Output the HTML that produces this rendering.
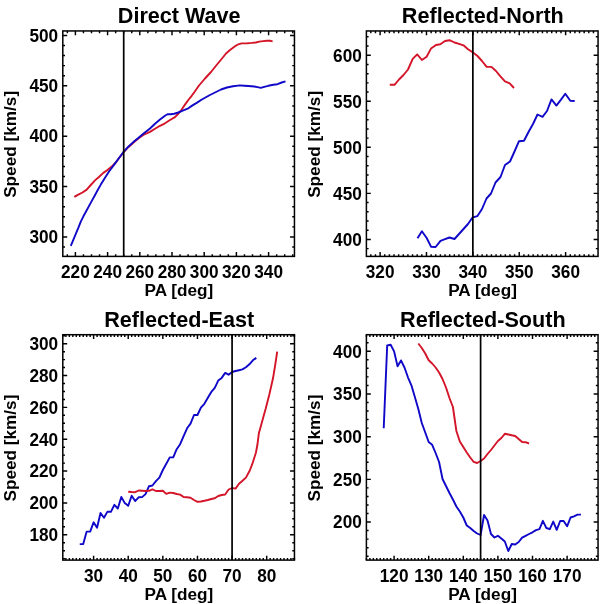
<!DOCTYPE html>
<html><head><meta charset="utf-8"><style>
html,body{margin:0;padding:0;background:#fff;width:600px;height:604px;overflow:hidden}
svg{display:block;will-change:transform}
.t{font-family:"Liberation Sans",sans-serif;font-weight:bold;font-size:17.2px;fill:#000}
.h{font-family:"Liberation Sans",sans-serif;font-weight:bold;font-size:21.6px;fill:#000}
</style></head><body>
<svg width="600" height="604" viewBox="0 0 600 604">
<rect width="600" height="604" fill="#fff"/>
<polyline points="74.3,196.9 78.3,194.6 82.5,192.5 86.7,189.6 90.8,185 95,180.4 99.2,176.7 103.3,172.9 107.5,170 111.7,166.6 115.8,162.5 119.5,157.5 124,151.8 128.3,147.2 133.3,142.8 138.3,138.6 143.3,135 150,131.9 155,128.75 160,125.8 165,123.3 170,120 175,117.1 178.3,113.75 181.7,109.6 185,104.6 188.3,100 191.7,95.8 195,91.25 199,85.5 205,78.5 211,72 217,64.5 222,58.5 226,53.5 230,50 235,46.3 238.3,44.3 241.7,43.4 247.5,43.2 251.7,42.9 255.8,42.5 259.2,41.6 263.3,41.1 266.7,40.8 270,40.8 272.6,41.4" fill="none" stroke="#d41428" stroke-width="1.9" stroke-linejoin="round" stroke-linecap="butt"/>
<polyline points="70.8,245.8 73.4,239.7 75.9,233.7 78.4,227.7 80.9,221.3 83.4,216.3 85.9,211.8 88.8,206.4 91.8,200.9 94.8,195.5 97.3,190.8 100.8,184.6 105,177.7 109.2,171.3 114.2,164.6 119.2,157.7 124,151.3 128.3,146.7 133.3,142.1 138.3,137.9 143.3,133.75 150,128.5 155,123.75 160,119.6 165,115.8 167.5,114.3 170.8,114.2 174.2,113.75 178.3,112.5 183.3,110.4 188.3,108.3 192.5,105.4 196.7,102.9 201.5,99.8 209,95.5 215,92.5 221,89.5 227,87.5 233,86.2 240,85.4 244.2,85.7 248.3,86 254.2,86.5 257.5,87.1 260.8,87.9 264.2,86.8 268.3,85.8 273.3,84.8 277.5,84.2 281.7,82.5 285.5,81.3" fill="none" stroke="#1008c8" stroke-width="1.9" stroke-linejoin="round" stroke-linecap="butt"/>
<line x1="123.7" y1="30.95" x2="123.7" y2="256.4" stroke="#000" stroke-width="1.7"/>
<rect x="62.8" y="30.95" width="231.65" height="225.45" fill="none" stroke="#000" stroke-width="1.5"/>
<text transform="translate(75.4 278) scale(1 1.06)" text-anchor="middle" class="t">220</text>
<text transform="translate(107.6 278) scale(1 1.06)" text-anchor="middle" class="t">240</text>
<text transform="translate(139.8 278) scale(1 1.06)" text-anchor="middle" class="t">260</text>
<text transform="translate(172 278) scale(1 1.06)" text-anchor="middle" class="t">280</text>
<text transform="translate(204.2 278) scale(1 1.06)" text-anchor="middle" class="t">300</text>
<text transform="translate(236.4 278) scale(1 1.06)" text-anchor="middle" class="t">320</text>
<text transform="translate(268.6 278) scale(1 1.06)" text-anchor="middle" class="t">340</text>
<text transform="translate(58.2 243.26) scale(1 1.06)" text-anchor="end" class="t">300</text>
<text transform="translate(58.2 192.87) scale(1 1.06)" text-anchor="end" class="t">350</text>
<text transform="translate(58.2 142.48) scale(1 1.06)" text-anchor="end" class="t">400</text>
<text transform="translate(58.2 92.09) scale(1 1.06)" text-anchor="end" class="t">450</text>
<text transform="translate(58.2 41.7) scale(1 1.06)" text-anchor="end" class="t">500</text>
<path d="M67.35 256.4v-2.2M67.35 30.95v2.2M75.4 256.4v-4.4M75.4 30.95v4.4M83.45 256.4v-2.2M83.45 30.95v2.2M91.5 256.4v-2.2M91.5 30.95v2.2M99.55 256.4v-2.2M99.55 30.95v2.2M107.6 256.4v-4.4M107.6 30.95v4.4M115.65 256.4v-2.2M115.65 30.95v2.2M123.7 256.4v-2.2M123.7 30.95v2.2M131.75 256.4v-2.2M131.75 30.95v2.2M139.8 256.4v-4.4M139.8 30.95v4.4M147.85 256.4v-2.2M147.85 30.95v2.2M155.9 256.4v-2.2M155.9 30.95v2.2M163.95 256.4v-2.2M163.95 30.95v2.2M172 256.4v-4.4M172 30.95v4.4M180.05 256.4v-2.2M180.05 30.95v2.2M188.1 256.4v-2.2M188.1 30.95v2.2M196.15 256.4v-2.2M196.15 30.95v2.2M204.2 256.4v-4.4M204.2 30.95v4.4M212.25 256.4v-2.2M212.25 30.95v2.2M220.3 256.4v-2.2M220.3 30.95v2.2M228.35 256.4v-2.2M228.35 30.95v2.2M236.4 256.4v-4.4M236.4 30.95v4.4M244.45 256.4v-2.2M244.45 30.95v2.2M252.5 256.4v-2.2M252.5 30.95v2.2M260.55 256.4v-2.2M260.55 30.95v2.2M268.6 256.4v-4.4M268.6 30.95v4.4M276.65 256.4v-2.2M276.65 30.95v2.2M284.7 256.4v-2.2M284.7 30.95v2.2M292.75 256.4v-2.2M292.75 30.95v2.2M62.8 247.04h2.2M294.45 247.04h-2.2M62.8 236.96h4.4M294.45 236.96h-4.4M62.8 226.88h2.2M294.45 226.88h-2.2M62.8 216.8h2.2M294.45 216.8h-2.2M62.8 206.73h2.2M294.45 206.73h-2.2M62.8 196.65h2.2M294.45 196.65h-2.2M62.8 186.57h4.4M294.45 186.57h-4.4M62.8 176.49h2.2M294.45 176.49h-2.2M62.8 166.41h2.2M294.45 166.41h-2.2M62.8 156.34h2.2M294.45 156.34h-2.2M62.8 146.26h2.2M294.45 146.26h-2.2M62.8 136.18h4.4M294.45 136.18h-4.4M62.8 126.1h2.2M294.45 126.1h-2.2M62.8 116.02h2.2M294.45 116.02h-2.2M62.8 105.95h2.2M294.45 105.95h-2.2M62.8 95.87h2.2M294.45 95.87h-2.2M62.8 85.79h4.4M294.45 85.79h-4.4M62.8 75.71h2.2M294.45 75.71h-2.2M62.8 65.63h2.2M294.45 65.63h-2.2M62.8 55.56h2.2M294.45 55.56h-2.2M62.8 45.48h2.2M294.45 45.48h-2.2M62.8 35.4h4.4M294.45 35.4h-4.4" stroke="#000" stroke-width="1.45" fill="none"/>
<text transform="translate(178.93 296)" text-anchor="middle" class="t">PA [deg]</text>
<text transform="translate(16.2 144.37) rotate(-90)" text-anchor="middle" class="t">Speed [km/s]</text>
<text transform="translate(179.22 22.75) scale(1 1.045)" text-anchor="middle" class="h">Direct Wave</text>
<polyline points="389.8,84.8 394.5,84.8 399,79.5 403.5,75 408,69.5 412.7,58.9 417.2,54.4 421.9,60 426.6,56.8 431,48.6 436,45 440.3,44.2 445,41 449.5,40.2 454.5,42.5 459,43.8 463.5,45.3 468,49.2 473,52.5 477.5,56 482,61 486.7,66.8 491.4,66.9 496,71 500.4,76.3 505,81.3 509.7,83.3 514,88" fill="none" stroke="#d41428" stroke-width="1.9" stroke-linejoin="round" stroke-linecap="butt"/>
<polyline points="417.5,238.3 421.9,231.3 426.7,238 431,246.7 435.6,247 440.5,240.8 445,239.2 449.5,237.5 454.5,239 459,234 463.5,229 468,224 472.5,217.5 477.3,216.2 482,209 486.5,198.5 491,193.5 495.5,182.5 500.5,177 505,165 510,161.5 514.5,151.5 519,141.2 524,140.8 528.5,132 533,124 537.5,114.5 542.5,116.8 547,111 551.5,99.4 556.4,105.6 561,99.6 565.3,93.7 570.3,100.7 574.7,101" fill="none" stroke="#1008c8" stroke-width="1.9" stroke-linejoin="round" stroke-linecap="butt"/>
<line x1="472.86" y1="30.95" x2="472.86" y2="256.4" stroke="#000" stroke-width="1.7"/>
<rect x="366.4" y="30.95" width="231.65" height="225.45" fill="none" stroke="#000" stroke-width="1.5"/>
<text transform="translate(380.1 278) scale(1 1.06)" text-anchor="middle" class="t">320</text>
<text transform="translate(426.48 278) scale(1 1.06)" text-anchor="middle" class="t">330</text>
<text transform="translate(472.86 278) scale(1 1.06)" text-anchor="middle" class="t">340</text>
<text transform="translate(519.24 278) scale(1 1.06)" text-anchor="middle" class="t">350</text>
<text transform="translate(565.62 278) scale(1 1.06)" text-anchor="middle" class="t">360</text>
<text transform="translate(361.8 245.7) scale(1 1.06)" text-anchor="end" class="t">400</text>
<text transform="translate(361.8 199.66) scale(1 1.06)" text-anchor="end" class="t">450</text>
<text transform="translate(361.8 153.62) scale(1 1.06)" text-anchor="end" class="t">500</text>
<text transform="translate(361.8 107.59) scale(1 1.06)" text-anchor="end" class="t">550</text>
<text transform="translate(361.8 61.55) scale(1 1.06)" text-anchor="end" class="t">600</text>
<path d="M370.82 256.4v-2.2M370.82 30.95v2.2M375.46 256.4v-2.2M375.46 30.95v2.2M380.1 256.4v-4.4M380.1 30.95v4.4M384.74 256.4v-2.2M384.74 30.95v2.2M389.38 256.4v-2.2M389.38 30.95v2.2M394.01 256.4v-2.2M394.01 30.95v2.2M398.65 256.4v-2.2M398.65 30.95v2.2M403.29 256.4v-2.2M403.29 30.95v2.2M407.93 256.4v-2.2M407.93 30.95v2.2M412.57 256.4v-2.2M412.57 30.95v2.2M417.2 256.4v-2.2M417.2 30.95v2.2M421.84 256.4v-2.2M421.84 30.95v2.2M426.48 256.4v-4.4M426.48 30.95v4.4M431.12 256.4v-2.2M431.12 30.95v2.2M435.76 256.4v-2.2M435.76 30.95v2.2M440.39 256.4v-2.2M440.39 30.95v2.2M445.03 256.4v-2.2M445.03 30.95v2.2M449.67 256.4v-2.2M449.67 30.95v2.2M454.31 256.4v-2.2M454.31 30.95v2.2M458.95 256.4v-2.2M458.95 30.95v2.2M463.58 256.4v-2.2M463.58 30.95v2.2M468.22 256.4v-2.2M468.22 30.95v2.2M472.86 256.4v-4.4M472.86 30.95v4.4M477.5 256.4v-2.2M477.5 30.95v2.2M482.14 256.4v-2.2M482.14 30.95v2.2M486.77 256.4v-2.2M486.77 30.95v2.2M491.41 256.4v-2.2M491.41 30.95v2.2M496.05 256.4v-2.2M496.05 30.95v2.2M500.69 256.4v-2.2M500.69 30.95v2.2M505.33 256.4v-2.2M505.33 30.95v2.2M509.96 256.4v-2.2M509.96 30.95v2.2M514.6 256.4v-2.2M514.6 30.95v2.2M519.24 256.4v-4.4M519.24 30.95v4.4M523.88 256.4v-2.2M523.88 30.95v2.2M528.52 256.4v-2.2M528.52 30.95v2.2M533.15 256.4v-2.2M533.15 30.95v2.2M537.79 256.4v-2.2M537.79 30.95v2.2M542.43 256.4v-2.2M542.43 30.95v2.2M547.07 256.4v-2.2M547.07 30.95v2.2M551.71 256.4v-2.2M551.71 30.95v2.2M556.34 256.4v-2.2M556.34 30.95v2.2M560.98 256.4v-2.2M560.98 30.95v2.2M565.62 256.4v-4.4M565.62 30.95v4.4M570.26 256.4v-2.2M570.26 30.95v2.2M574.9 256.4v-2.2M574.9 30.95v2.2M579.53 256.4v-2.2M579.53 30.95v2.2M584.17 256.4v-2.2M584.17 30.95v2.2M588.81 256.4v-2.2M588.81 30.95v2.2M593.45 256.4v-2.2M593.45 30.95v2.2M366.4 248.61h2.2M598.05 248.61h-2.2M366.4 239.4h4.4M598.05 239.4h-4.4M366.4 230.19h2.2M598.05 230.19h-2.2M366.4 220.98h2.2M598.05 220.98h-2.2M366.4 211.78h2.2M598.05 211.78h-2.2M366.4 202.57h2.2M598.05 202.57h-2.2M366.4 193.36h4.4M598.05 193.36h-4.4M366.4 184.16h2.2M598.05 184.16h-2.2M366.4 174.95h2.2M598.05 174.95h-2.2M366.4 165.74h2.2M598.05 165.74h-2.2M366.4 156.53h2.2M598.05 156.53h-2.2M366.4 147.32h4.4M598.05 147.32h-4.4M366.4 138.12h2.2M598.05 138.12h-2.2M366.4 128.91h2.2M598.05 128.91h-2.2M366.4 119.7h2.2M598.05 119.7h-2.2M366.4 110.5h2.2M598.05 110.5h-2.2M366.4 101.29h4.4M598.05 101.29h-4.4M366.4 92.08h2.2M598.05 92.08h-2.2M366.4 82.87h2.2M598.05 82.87h-2.2M366.4 73.66h2.2M598.05 73.66h-2.2M366.4 64.46h2.2M598.05 64.46h-2.2M366.4 55.25h4.4M598.05 55.25h-4.4M366.4 46.04h2.2M598.05 46.04h-2.2M366.4 36.84h2.2M598.05 36.84h-2.2" stroke="#000" stroke-width="1.45" fill="none"/>
<text transform="translate(482.52 296)" text-anchor="middle" class="t">PA [deg]</text>
<text transform="translate(319.8 144.37) rotate(-90)" text-anchor="middle" class="t">Speed [km/s]</text>
<text transform="translate(482.82 22.75) scale(1 1.045)" text-anchor="middle" class="h">Reflected-North</text>
<polyline points="79.75,544.1 83.21,544.1 86.68,531.6 90.14,531.6 93.6,522.3 97.06,527.7 100.52,513 103.99,517.7 107.45,511.6 110.91,511.8 114.37,504.8 117.83,508.5 121.3,496.9 124.76,503.1 128.22,505.8 131.68,495.7 135.14,501.1 138.61,497.3 142.07,497.1 145.53,494.1 148.99,486.2 152.45,485.5 155.92,481.2 159.38,477.7 162.84,470 166.3,463.8 169.76,457.4 173.23,457.4 176.69,449.2 180.15,444.2 183.61,436.2 187.07,428.3 190.54,423.6 194,415 197.46,415 200.92,407.7 204.38,403.8 207.85,397.8 211.31,391.9 214.77,387.9 218.23,380.6 221.69,377.9 225.16,372.9 228.62,374.7 232.08,372 235.54,371 239,370.2 242.47,369.4 245.93,367.3 249.39,364.3 252.85,360.3 256.31,357.9" fill="none" stroke="#1008c8" stroke-width="1.9" stroke-linejoin="round" stroke-linecap="butt"/>
<polyline points="128.22,491.7 131.68,492 135.14,492.2 138.61,490.5 142.07,490.7 145.53,491 148.99,490.8 152.45,489.4 155.92,491 159.38,491 162.84,490.8 166.3,493.9 169.76,492.6 173.23,493 176.69,494 180.15,494.6 183.61,497 187.07,497.3 190.54,497.7 194,500 197.46,501.8 200.92,501.5 204.38,500.8 207.85,500 211.31,499 214.77,498.3 218.23,496 221.69,495 225.16,494.5 228.62,489.5 232.08,488 235.54,488.6 239,483.8 242.47,480.8 245.93,477.6 249.8,470.5 252.4,463.7 255.9,452.7 257.4,444.8 258.9,432.9 260.9,425.9 263.9,415 265.6,409.1 269.4,394.2 273.1,377.8 275.3,364.4 277.2,351.6" fill="none" stroke="#d41428" stroke-width="1.9" stroke-linejoin="round" stroke-linecap="butt"/>
<line x1="232.08" y1="334.7" x2="232.08" y2="560.1" stroke="#000" stroke-width="1.7"/>
<rect x="62.8" y="334.7" width="231.65" height="225.4" fill="none" stroke="#000" stroke-width="1.5"/>
<text transform="translate(93.6 581.7) scale(1 1.06)" text-anchor="middle" class="t">30</text>
<text transform="translate(128.22 581.7) scale(1 1.06)" text-anchor="middle" class="t">40</text>
<text transform="translate(162.84 581.7) scale(1 1.06)" text-anchor="middle" class="t">50</text>
<text transform="translate(197.46 581.7) scale(1 1.06)" text-anchor="middle" class="t">60</text>
<text transform="translate(232.08 581.7) scale(1 1.06)" text-anchor="middle" class="t">70</text>
<text transform="translate(266.7 581.7) scale(1 1.06)" text-anchor="middle" class="t">80</text>
<text transform="translate(58.2 541.04) scale(1 1.06)" text-anchor="end" class="t">180</text>
<text transform="translate(58.2 509.2) scale(1 1.06)" text-anchor="end" class="t">200</text>
<text transform="translate(58.2 477.36) scale(1 1.06)" text-anchor="end" class="t">220</text>
<text transform="translate(58.2 445.52) scale(1 1.06)" text-anchor="end" class="t">240</text>
<text transform="translate(58.2 413.68) scale(1 1.06)" text-anchor="end" class="t">260</text>
<text transform="translate(58.2 381.84) scale(1 1.06)" text-anchor="end" class="t">280</text>
<text transform="translate(58.2 350) scale(1 1.06)" text-anchor="end" class="t">300</text>
<path d="M65.9 560.1v-2.2M65.9 334.7v2.2M69.37 560.1v-2.2M69.37 334.7v2.2M72.83 560.1v-2.2M72.83 334.7v2.2M76.29 560.1v-2.2M76.29 334.7v2.2M79.75 560.1v-2.2M79.75 334.7v2.2M83.21 560.1v-2.2M83.21 334.7v2.2M86.68 560.1v-2.2M86.68 334.7v2.2M90.14 560.1v-2.2M90.14 334.7v2.2M93.6 560.1v-4.4M93.6 334.7v4.4M97.06 560.1v-2.2M97.06 334.7v2.2M100.52 560.1v-2.2M100.52 334.7v2.2M103.99 560.1v-2.2M103.99 334.7v2.2M107.45 560.1v-2.2M107.45 334.7v2.2M110.91 560.1v-2.2M110.91 334.7v2.2M114.37 560.1v-2.2M114.37 334.7v2.2M117.83 560.1v-2.2M117.83 334.7v2.2M121.3 560.1v-2.2M121.3 334.7v2.2M124.76 560.1v-2.2M124.76 334.7v2.2M128.22 560.1v-4.4M128.22 334.7v4.4M131.68 560.1v-2.2M131.68 334.7v2.2M135.14 560.1v-2.2M135.14 334.7v2.2M138.61 560.1v-2.2M138.61 334.7v2.2M142.07 560.1v-2.2M142.07 334.7v2.2M145.53 560.1v-2.2M145.53 334.7v2.2M148.99 560.1v-2.2M148.99 334.7v2.2M152.45 560.1v-2.2M152.45 334.7v2.2M155.92 560.1v-2.2M155.92 334.7v2.2M159.38 560.1v-2.2M159.38 334.7v2.2M162.84 560.1v-4.4M162.84 334.7v4.4M166.3 560.1v-2.2M166.3 334.7v2.2M169.76 560.1v-2.2M169.76 334.7v2.2M173.23 560.1v-2.2M173.23 334.7v2.2M176.69 560.1v-2.2M176.69 334.7v2.2M180.15 560.1v-2.2M180.15 334.7v2.2M183.61 560.1v-2.2M183.61 334.7v2.2M187.07 560.1v-2.2M187.07 334.7v2.2M190.54 560.1v-2.2M190.54 334.7v2.2M194 560.1v-2.2M194 334.7v2.2M197.46 560.1v-4.4M197.46 334.7v4.4M200.92 560.1v-2.2M200.92 334.7v2.2M204.38 560.1v-2.2M204.38 334.7v2.2M207.85 560.1v-2.2M207.85 334.7v2.2M211.31 560.1v-2.2M211.31 334.7v2.2M214.77 560.1v-2.2M214.77 334.7v2.2M218.23 560.1v-2.2M218.23 334.7v2.2M221.69 560.1v-2.2M221.69 334.7v2.2M225.16 560.1v-2.2M225.16 334.7v2.2M228.62 560.1v-2.2M228.62 334.7v2.2M232.08 560.1v-4.4M232.08 334.7v4.4M235.54 560.1v-2.2M235.54 334.7v2.2M239 560.1v-2.2M239 334.7v2.2M242.47 560.1v-2.2M242.47 334.7v2.2M245.93 560.1v-2.2M245.93 334.7v2.2M249.39 560.1v-2.2M249.39 334.7v2.2M252.85 560.1v-2.2M252.85 334.7v2.2M256.31 560.1v-2.2M256.31 334.7v2.2M259.78 560.1v-2.2M259.78 334.7v2.2M263.24 560.1v-2.2M263.24 334.7v2.2M266.7 560.1v-4.4M266.7 334.7v4.4M270.16 560.1v-2.2M270.16 334.7v2.2M273.62 560.1v-2.2M273.62 334.7v2.2M277.09 560.1v-2.2M277.09 334.7v2.2M280.55 560.1v-2.2M280.55 334.7v2.2M284.01 560.1v-2.2M284.01 334.7v2.2M287.47 560.1v-2.2M287.47 334.7v2.2M290.93 560.1v-2.2M290.93 334.7v2.2M294.4 560.1v-2.2M294.4 334.7v2.2M62.8 558.62h2.2M294.45 558.62h-2.2M62.8 550.66h2.2M294.45 550.66h-2.2M62.8 542.7h2.2M294.45 542.7h-2.2M62.8 534.74h4.4M294.45 534.74h-4.4M62.8 526.78h2.2M294.45 526.78h-2.2M62.8 518.82h2.2M294.45 518.82h-2.2M62.8 510.86h2.2M294.45 510.86h-2.2M62.8 502.9h4.4M294.45 502.9h-4.4M62.8 494.94h2.2M294.45 494.94h-2.2M62.8 486.98h2.2M294.45 486.98h-2.2M62.8 479.02h2.2M294.45 479.02h-2.2M62.8 471.06h4.4M294.45 471.06h-4.4M62.8 463.1h2.2M294.45 463.1h-2.2M62.8 455.14h2.2M294.45 455.14h-2.2M62.8 447.18h2.2M294.45 447.18h-2.2M62.8 439.22h4.4M294.45 439.22h-4.4M62.8 431.26h2.2M294.45 431.26h-2.2M62.8 423.3h2.2M294.45 423.3h-2.2M62.8 415.34h2.2M294.45 415.34h-2.2M62.8 407.38h4.4M294.45 407.38h-4.4M62.8 399.42h2.2M294.45 399.42h-2.2M62.8 391.46h2.2M294.45 391.46h-2.2M62.8 383.5h2.2M294.45 383.5h-2.2M62.8 375.54h4.4M294.45 375.54h-4.4M62.8 367.58h2.2M294.45 367.58h-2.2M62.8 359.62h2.2M294.45 359.62h-2.2M62.8 351.66h2.2M294.45 351.66h-2.2M62.8 343.7h4.4M294.45 343.7h-4.4M62.8 335.74h2.2M294.45 335.74h-2.2" stroke="#000" stroke-width="1.45" fill="none"/>
<text transform="translate(178.93 599.7)" text-anchor="middle" class="t">PA [deg]</text>
<text transform="translate(16.2 448.1) rotate(-90)" text-anchor="middle" class="t">Speed [km/s]</text>
<text transform="translate(179.22 326.5) scale(1 1.045)" text-anchor="middle" class="h">Reflected-East</text>
<polyline points="383.72,428.3 387.18,345.5 390.64,344.8 394.1,351.4 397.56,366.3 401.02,360.4 404.48,367.5 407.94,377.3 411.4,385.3 414.86,397 418.32,409 421.78,423 425.24,432.5 428.7,442 432.16,444.8 435.62,453 439.08,462 442.54,479 446,486 449.46,493 452.92,499.5 456.38,506.5 459.84,511.5 463.3,517.5 466.76,525.5 470.22,528 473.68,531 477.14,533.5 480.6,535 484.06,515 487.52,520.5 490.98,534 494.44,537.5 497.9,535.8 501.36,538.5 504.82,541.5 508.28,551 511.74,544 515.2,544.5 518.66,542 522.12,537.6 525.58,535.8 529.04,534 532.5,532.3 535.96,530.1 539.42,529.2 542.88,520.8 546.34,528 549.8,529.2 553.26,521.6 556.72,529.8 560.18,521 563.64,521 567.1,526.3 570.56,517.5 574.02,516.3 577.48,514.6 580.94,514.6" fill="none" stroke="#1008c8" stroke-width="1.9" stroke-linejoin="round" stroke-linecap="butt"/>
<polyline points="418.32,343.5 421.78,348 425.24,353.5 428.7,360.3 432.16,363.5 435.62,367.5 439.08,372.5 442.54,379 446,387.5 449.46,398 452.92,407 456.38,431 459.84,441.5 463.3,447 466.76,452.5 470.22,457.5 473.68,461.8 477.14,463 480.6,461 484.06,458.5 487.52,454 490.98,450 494.44,445.5 497.9,441 501.36,438 504.82,433.8 508.28,434.5 511.74,435.3 515.2,436 518.66,439 522.12,442 525.58,442.2 529.04,443.5" fill="none" stroke="#d41428" stroke-width="1.9" stroke-linejoin="round" stroke-linecap="butt"/>
<line x1="480.6" y1="334.7" x2="480.6" y2="560.1" stroke="#000" stroke-width="1.7"/>
<rect x="366.4" y="334.7" width="231.65" height="225.4" fill="none" stroke="#000" stroke-width="1.5"/>
<text transform="translate(394.1 581.7) scale(1 1.06)" text-anchor="middle" class="t">120</text>
<text transform="translate(428.7 581.7) scale(1 1.06)" text-anchor="middle" class="t">130</text>
<text transform="translate(463.3 581.7) scale(1 1.06)" text-anchor="middle" class="t">140</text>
<text transform="translate(497.9 581.7) scale(1 1.06)" text-anchor="middle" class="t">150</text>
<text transform="translate(532.5 581.7) scale(1 1.06)" text-anchor="middle" class="t">160</text>
<text transform="translate(567.1 581.7) scale(1 1.06)" text-anchor="middle" class="t">170</text>
<text transform="translate(361.8 528.35) scale(1 1.06)" text-anchor="end" class="t">200</text>
<text transform="translate(361.8 485.65) scale(1 1.06)" text-anchor="end" class="t">250</text>
<text transform="translate(361.8 442.95) scale(1 1.06)" text-anchor="end" class="t">300</text>
<text transform="translate(361.8 400.25) scale(1 1.06)" text-anchor="end" class="t">350</text>
<text transform="translate(361.8 357.55) scale(1 1.06)" text-anchor="end" class="t">400</text>
<path d="M366.42 560.1v-2.2M366.42 334.7v2.2M369.88 560.1v-2.2M369.88 334.7v2.2M373.34 560.1v-2.2M373.34 334.7v2.2M376.8 560.1v-2.2M376.8 334.7v2.2M380.26 560.1v-2.2M380.26 334.7v2.2M383.72 560.1v-2.2M383.72 334.7v2.2M387.18 560.1v-2.2M387.18 334.7v2.2M390.64 560.1v-2.2M390.64 334.7v2.2M394.1 560.1v-4.4M394.1 334.7v4.4M397.56 560.1v-2.2M397.56 334.7v2.2M401.02 560.1v-2.2M401.02 334.7v2.2M404.48 560.1v-2.2M404.48 334.7v2.2M407.94 560.1v-2.2M407.94 334.7v2.2M411.4 560.1v-2.2M411.4 334.7v2.2M414.86 560.1v-2.2M414.86 334.7v2.2M418.32 560.1v-2.2M418.32 334.7v2.2M421.78 560.1v-2.2M421.78 334.7v2.2M425.24 560.1v-2.2M425.24 334.7v2.2M428.7 560.1v-4.4M428.7 334.7v4.4M432.16 560.1v-2.2M432.16 334.7v2.2M435.62 560.1v-2.2M435.62 334.7v2.2M439.08 560.1v-2.2M439.08 334.7v2.2M442.54 560.1v-2.2M442.54 334.7v2.2M446 560.1v-2.2M446 334.7v2.2M449.46 560.1v-2.2M449.46 334.7v2.2M452.92 560.1v-2.2M452.92 334.7v2.2M456.38 560.1v-2.2M456.38 334.7v2.2M459.84 560.1v-2.2M459.84 334.7v2.2M463.3 560.1v-4.4M463.3 334.7v4.4M466.76 560.1v-2.2M466.76 334.7v2.2M470.22 560.1v-2.2M470.22 334.7v2.2M473.68 560.1v-2.2M473.68 334.7v2.2M477.14 560.1v-2.2M477.14 334.7v2.2M480.6 560.1v-2.2M480.6 334.7v2.2M484.06 560.1v-2.2M484.06 334.7v2.2M487.52 560.1v-2.2M487.52 334.7v2.2M490.98 560.1v-2.2M490.98 334.7v2.2M494.44 560.1v-2.2M494.44 334.7v2.2M497.9 560.1v-4.4M497.9 334.7v4.4M501.36 560.1v-2.2M501.36 334.7v2.2M504.82 560.1v-2.2M504.82 334.7v2.2M508.28 560.1v-2.2M508.28 334.7v2.2M511.74 560.1v-2.2M511.74 334.7v2.2M515.2 560.1v-2.2M515.2 334.7v2.2M518.66 560.1v-2.2M518.66 334.7v2.2M522.12 560.1v-2.2M522.12 334.7v2.2M525.58 560.1v-2.2M525.58 334.7v2.2M529.04 560.1v-2.2M529.04 334.7v2.2M532.5 560.1v-4.4M532.5 334.7v4.4M535.96 560.1v-2.2M535.96 334.7v2.2M539.42 560.1v-2.2M539.42 334.7v2.2M542.88 560.1v-2.2M542.88 334.7v2.2M546.34 560.1v-2.2M546.34 334.7v2.2M549.8 560.1v-2.2M549.8 334.7v2.2M553.26 560.1v-2.2M553.26 334.7v2.2M556.72 560.1v-2.2M556.72 334.7v2.2M560.18 560.1v-2.2M560.18 334.7v2.2M563.64 560.1v-2.2M563.64 334.7v2.2M567.1 560.1v-4.4M567.1 334.7v4.4M570.56 560.1v-2.2M570.56 334.7v2.2M574.02 560.1v-2.2M574.02 334.7v2.2M577.48 560.1v-2.2M577.48 334.7v2.2M580.94 560.1v-2.2M580.94 334.7v2.2M584.4 560.1v-2.2M584.4 334.7v2.2M587.86 560.1v-2.2M587.86 334.7v2.2M591.32 560.1v-2.2M591.32 334.7v2.2M594.78 560.1v-2.2M594.78 334.7v2.2M366.4 556.21h2.2M598.05 556.21h-2.2M366.4 547.67h2.2M598.05 547.67h-2.2M366.4 539.13h2.2M598.05 539.13h-2.2M366.4 530.59h2.2M598.05 530.59h-2.2M366.4 522.05h4.4M598.05 522.05h-4.4M366.4 513.51h2.2M598.05 513.51h-2.2M366.4 504.97h2.2M598.05 504.97h-2.2M366.4 496.43h2.2M598.05 496.43h-2.2M366.4 487.89h2.2M598.05 487.89h-2.2M366.4 479.35h4.4M598.05 479.35h-4.4M366.4 470.81h2.2M598.05 470.81h-2.2M366.4 462.27h2.2M598.05 462.27h-2.2M366.4 453.73h2.2M598.05 453.73h-2.2M366.4 445.19h2.2M598.05 445.19h-2.2M366.4 436.65h4.4M598.05 436.65h-4.4M366.4 428.11h2.2M598.05 428.11h-2.2M366.4 419.57h2.2M598.05 419.57h-2.2M366.4 411.03h2.2M598.05 411.03h-2.2M366.4 402.49h2.2M598.05 402.49h-2.2M366.4 393.95h4.4M598.05 393.95h-4.4M366.4 385.41h2.2M598.05 385.41h-2.2M366.4 376.87h2.2M598.05 376.87h-2.2M366.4 368.33h2.2M598.05 368.33h-2.2M366.4 359.79h2.2M598.05 359.79h-2.2M366.4 351.25h4.4M598.05 351.25h-4.4M366.4 342.71h2.2M598.05 342.71h-2.2" stroke="#000" stroke-width="1.45" fill="none"/>
<text transform="translate(482.52 599.7)" text-anchor="middle" class="t">PA [deg]</text>
<text transform="translate(319.8 448.1) rotate(-90)" text-anchor="middle" class="t">Speed [km/s]</text>
<text transform="translate(482.82 326.5) scale(1 1.045)" text-anchor="middle" class="h">Reflected-South</text>
</svg>
</body></html>
